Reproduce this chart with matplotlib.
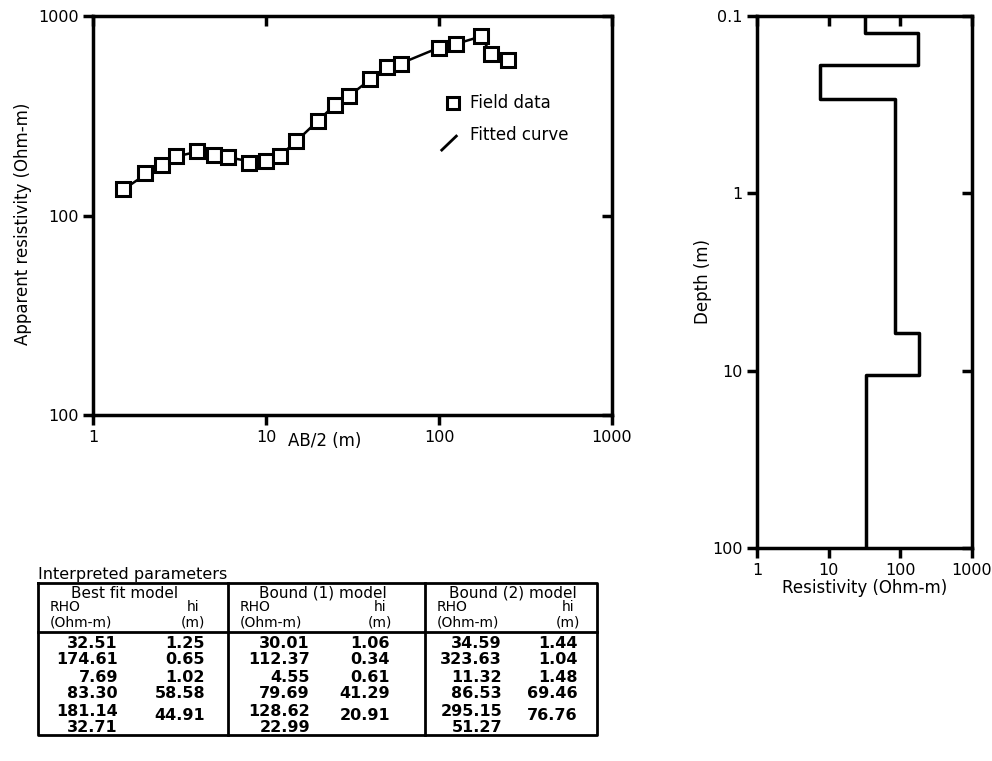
import numpy as np
import matplotlib.pyplot as plt

plt.rcParams['font.family'] = 'DejaVu Sans'

# sounding curve
ab2 = [1.5, 2, 2.5, 3, 4, 5, 6, 8, 10, 12, 15, 20, 25, 30, 40, 50, 60, 100, 125, 175, 200, 250]
rho_field = [135, 163, 179, 199, 211, 202, 196, 183, 187, 198, 237, 299, 360, 395,
             482, 552, 573, 695, 722, 794, 643, 600]
rho_fit = [135, 160, 180, 197, 209, 203, 196, 187, 187, 199, 236, 299, 358, 396,
           480, 550, 578, 694, 724, 790, 645, 602]
y_ticks = [10, 100, 1000]
y_tick_labels = ['100', '100', '1000']

# layered model (best fit)
model_rho = [32.51, 174.61, 7.69, 83.30, 181.14, 32.71]
model_bounds = [0.1, 0.125, 0.19, 0.292, 6.15, 10.64, 100]

# interpreted parameters table
models = ['Best fit model', 'Bound (1) model', 'Bound (2) model']
table_rho = [['32.51', '174.61', '7.69', '83.30', '181.14', '32.71'],
             ['30.01', '112.37', '4.55', '79.69', '128.62', '22.99'],
             ['34.59', '323.63', '11.32', '86.53', '295.15', '51.27']]
table_hi = [['1.25', '0.65', '1.02', '58.58', '44.91'],
            ['1.06', '0.34', '0.61', '41.29', '20.91'],
            ['1.44', '1.04', '1.48', '69.46', '76.76']]

W, H = 992, 761
fig = plt.figure(figsize=(W / 100, H / 100), dpi=100)


def px_axes(x0, y0, x1, y1):
    return fig.add_axes([x0 / W, 1 - y1 / H, (x1 - x0) / W, (y1 - y0) / H])


def style(ax):
    for s in ax.spines.values():
        s.set_linewidth(2.5)
    ax.minorticks_off()
    ax.tick_params(axis='both', which='major', labelsize=11.5, width=2.5, length=7)
    ax.tick_params(axis='x', top=True, bottom=True, direction='out')
    ax.tick_params(axis='y', left=True, right=True, direction='out')
    for t in ax.xaxis.get_major_ticks():
        t.tick2line.set_marker(3)  # top ticks pointing down (inward)
    for t in ax.yaxis.get_major_ticks():
        t.tick2line.set_marker(0)  # right ticks pointing left (inward)


# ---- sounding curve ----
ax = px_axes(93, 16, 612, 415)
ax.set_xscale('log')
ax.set_yscale('log')
ax.set_xlim(1, 1000)
ax.set_ylim(10, 1000)
ax.plot(ab2, rho_fit, '-', color='black', lw=1.8, zorder=2)
ax.plot(ab2, rho_field, 's', ms=9.5, mfc='white', mec='black', mew=2.2, zorder=3)
ax.set_xticks([1, 10, 100, 1000])
ax.set_xticklabels(['1', '10', '100', '1000'])
ax.set_yticks(y_ticks)
ax.set_yticklabels(y_tick_labels)
style(ax)
ax.text(0.447, -0.065, 'AB/2 (m)', transform=ax.transAxes, ha='center', va='center', fontsize=12)
ax.text(-0.135, 0.48, 'Apparent resistivity (Ohm-m)', transform=ax.transAxes,
        rotation=90, ha='center', va='center', fontsize=12)
# legend
ax.plot([0.694], [0.782], 's', ms=9, mfc='white', mec='black', mew=2.2, transform=ax.transAxes)
ax.text(0.726, 0.782, 'Field data', transform=ax.transAxes, va='center', fontsize=12)
ax.plot([0.672, 0.700], [0.664, 0.699], '-', color='black', lw=2, transform=ax.transAxes)
ax.text(0.726, 0.702, 'Fitted curve', transform=ax.transAxes, va='center', fontsize=12)

# ---- layered model ----
ax2 = px_axes(757, 16, 972, 548)
ax2.set_xscale('log')
ax2.set_yscale('log')
ax2.set_xlim(1, 1000)
ax2.set_ylim(100, 0.1)
xs, ys = [], []
for i, r in enumerate(model_rho):
    xs += [r, r]
    ys += [model_bounds[i], model_bounds[i + 1]]
ax2.plot(xs, ys, '-', color='black', lw=2.5)
ax2.set_xticks([1, 10, 100, 1000])
ax2.set_xticklabels(['1', '10', '100', '1000'])
ax2.set_yticks([0.1, 1, 10, 100])
ax2.set_yticklabels(['0.1', '1', '10', '100'])
style(ax2)
ax2.set_xlabel('Resistivity (Ohm-m)', fontsize=12, labelpad=1)
ax2.set_ylabel('Depth (m)', fontsize=12, labelpad=0)

# ---- table ----
tb = fig.add_axes([0, 0, 1, 1])
tb.set_xlim(0, W)
tb.set_ylim(H, 0)
tb.axis('off')
fs = 11.5
tb.text(38, 575, 'Interpreted parameters', fontsize=fs, va='center')
bx0, bx1, by0, by1 = 38, 597, 583, 735
tb.plot([bx0, bx1, bx1, bx0, bx0], [by0, by0, by1, by1, by0], color='black', lw=2)
tb.plot([bx0, bx1], [632, 632], color='black', lw=2)
seps = [228, 425]
for s in seps:
    tb.plot([s, s], [by0, by1], color='black', lw=2)
col_left = [bx0, 228, 425]
title_cx = [125, 323, 513]
rho_right = [118, 310, 502]
hi_right = [205, 390, 578]
hi_cx = [193, 380, 568]
row_y = [643, 660, 677, 694, 711, 728]
for k in range(3):
    tb.text(title_cx[k], 598, models[k], ha='center', va='baseline', fontsize=11)
    tb.text(col_left[k] + 12, 611, 'RHO', ha='left', va='baseline', fontsize=10)
    tb.text(col_left[k] + 12, 626, '(Ohm-m)', ha='left', va='baseline', fontsize=10)
    tb.text(hi_cx[k], 611, 'hi', ha='center', va='baseline', fontsize=10)
    tb.text(hi_cx[k], 626, '(m)', ha='center', va='baseline', fontsize=10)
    for i, v in enumerate(table_rho[k]):
        tb.text(rho_right[k], row_y[i], v, ha='right', va='center', fontsize=fs, fontweight='bold')
    for i, v in enumerate(table_hi[k]):
        yy = row_y[i] if i < 4 else (row_y[4] + row_y[5]) / 2 - 4
        tb.text(hi_right[k], yy, v, ha='right', va='center', fontsize=fs, fontweight='bold')

fig.savefig('out.png', dpi=100)
